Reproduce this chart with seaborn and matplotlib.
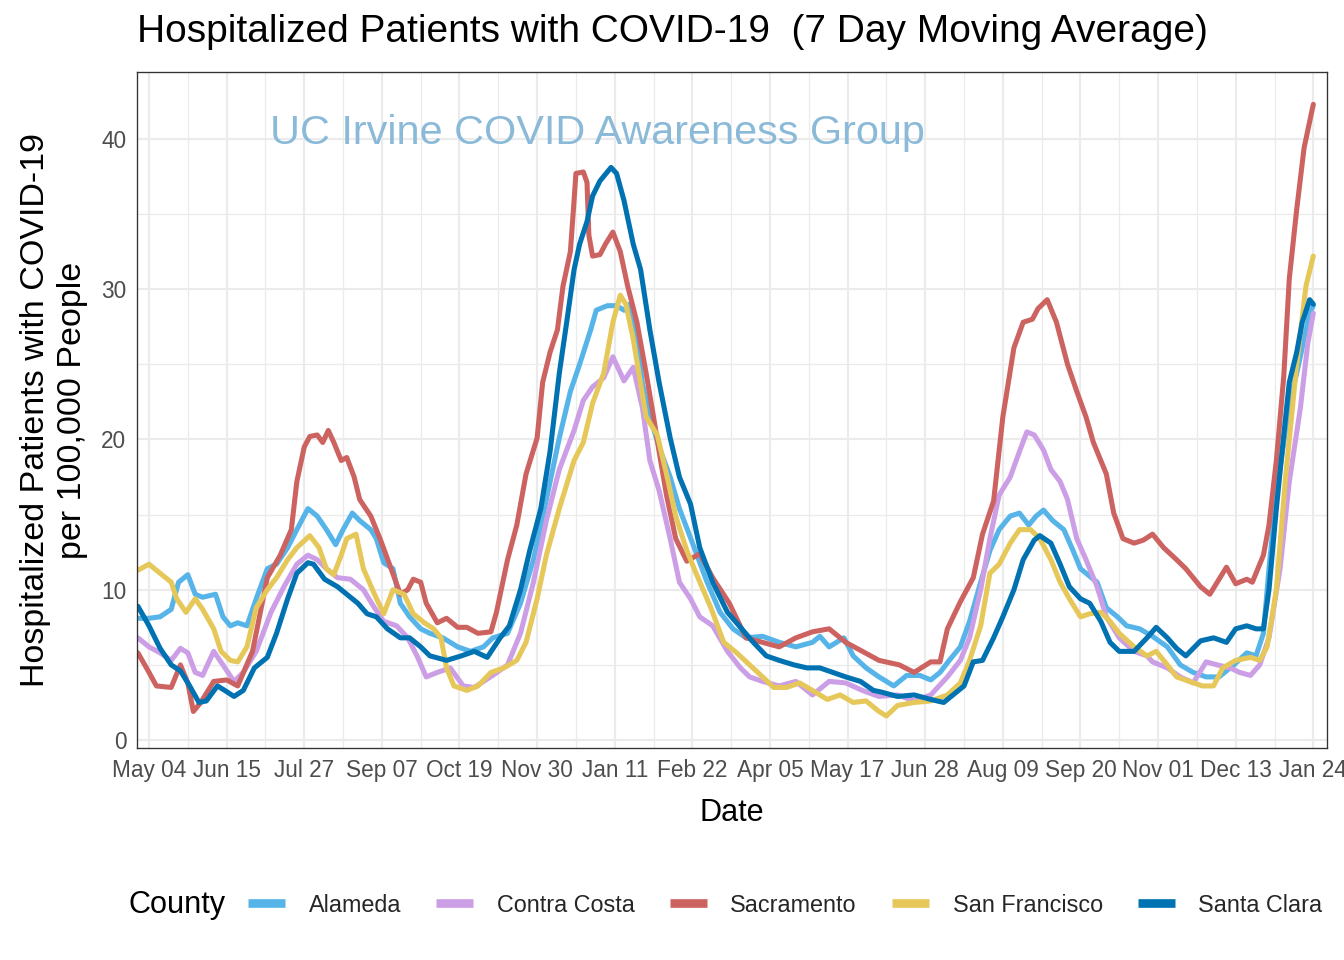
import numpy as np
import pandas as pd
import matplotlib
matplotlib.use("Agg")
import matplotlib.pyplot as plt
from matplotlib.ticker import MultipleLocator
from matplotlib.lines import Line2D
import seaborn as sns

START = pd.Timestamp("2020-05-04")
counties = ["Alameda", "Contra Costa", "Sacramento", "San Francisco", "Santa Clara"]
palette = ["#56B4E9", "#CC9EE6", "#CD6361", "#E6C85A", "#0072B2"]

# day offsets from START and values (patients per 100,000)
alameda_days = [-6, 0, 6, 12, 16, 21, 25, 29, 36, 40, 44, 48, 53, 58, 64, 69, 75, 80, 86, 91, 96, 101, 105, 110, 114,
                120, 123, 127, 132, 136, 141, 147, 152, 159, 167, 174, 181, 186, 194, 201, 208, 215, 222, 228, 233,
                239, 242, 248, 253, 257, 260, 264, 267, 271, 276, 282, 287, 295, 302, 309, 316, 323, 332, 341, 350,
                359, 363, 368, 376, 381, 388, 395, 403, 410, 417, 423, 428, 433, 439, 444, 450, 455, 460, 466, 471,
                476, 480, 484, 489, 495, 500, 504, 507, 513, 518, 524, 529, 536, 543, 551, 558, 565, 572, 579, 587,
                594, 599, 603, 606, 610, 614, 617, 621, 624, 628, 630]
alameda_vals = [8.1, 8.1, 8.2, 8.7, 10.5, 11.0, 9.7, 9.5, 9.7, 8.2, 7.6, 7.8, 7.6, 9.4, 11.4, 11.7, 12.8, 14.0, 15.4,
                14.9, 14.0, 13.0, 14.0, 15.1, 14.6, 14.0, 13.4, 11.8, 11.4, 9.1, 8.2, 7.4, 7.1, 6.8, 6.2, 5.9, 6.2,
                6.8, 7.1, 9.1, 12.0, 16.0, 20.1, 23.2, 25.0, 27.3, 28.6, 28.9, 28.9, 28.6, 29.0, 26.7, 23.7, 21.5,
                19.5, 17.5, 15.4, 12.8, 10.5, 8.5, 7.4, 6.8, 6.9, 6.5, 6.2, 6.5, 6.9, 6.2, 6.8, 5.6, 4.8, 4.2, 3.6,
                4.3, 4.3, 4.0, 4.5, 5.3, 6.2, 7.9, 10.5, 12.6, 14.0, 14.9, 15.1, 14.3, 14.9, 15.3, 14.6, 14.0, 12.6,
                11.4, 11.1, 10.5, 8.8, 8.2, 7.6, 7.4, 6.9, 6.2, 5.0, 4.5, 4.2, 4.2, 5.0, 5.8, 5.6, 7.1, 11.4, 16.3,
                19.8, 22.4, 24.4, 26.1, 28.4, 28.9]

contra_days = [-6, 0, 6, 12, 17, 21, 25, 29, 35, 40, 46, 51, 58, 66, 73, 80, 86, 91, 96, 102, 109, 116, 122, 127, 134,
               140, 145, 150, 156, 163, 170, 176, 181, 186, 194, 201, 208, 215, 222, 230, 235, 240, 246, 251, 257,
               262, 267, 271, 276, 282, 287, 293, 298, 305, 313, 320, 325, 332, 341, 350, 359, 368, 377, 386, 395,
               405, 414, 423, 432, 439, 444, 450, 455, 460, 466, 471, 475, 479, 484, 488, 493, 497, 502, 507, 513,
               518, 525, 533, 540, 543, 551, 558, 565, 572, 578, 585, 590, 596, 601, 606, 612, 617, 623, 627, 630]
contra_vals = [6.8, 6.2, 5.8, 5.3, 6.1, 5.8, 4.5, 4.3, 5.9, 5.0, 3.9, 4.5, 5.9, 8.5, 10.2, 11.7, 12.3, 12.0, 11.4,
               10.8, 10.7, 10.0, 8.8, 7.9, 7.6, 6.8, 5.6, 4.2, 4.5, 4.8, 3.6, 3.5, 3.9, 4.3, 5.0, 7.1, 10.5, 14.6,
               18.0, 20.6, 22.6, 23.5, 24.1, 25.5, 23.9, 24.8, 22.1, 18.6, 16.6, 13.4, 10.5, 9.4, 8.2, 7.6, 5.9, 4.8,
               4.2, 3.9, 3.6, 3.9, 3.0, 3.9, 3.8, 3.3, 2.9, 3.0, 2.6, 3.0, 4.2, 5.3, 6.8, 10.0, 13.4, 16.3, 17.5,
               19.2, 20.5, 20.3, 19.3, 18.0, 17.2, 16.0, 13.4, 12.0, 10.2, 8.2, 6.8, 5.9, 5.6, 5.2, 4.8, 4.2, 3.8,
               5.2, 5.0, 4.8, 4.5, 4.3, 5.0, 6.8, 11.4, 17.2, 22.1, 26.4, 28.4]

sacramento_days = [-6, 0, 4, 12, 17, 21, 24, 28, 35, 42, 48, 56, 64, 71, 77, 80, 84, 87, 91, 94, 97, 100, 104, 107,
                   111, 114, 120, 125, 131, 136, 140, 143, 147, 150, 156, 161, 167, 172, 178, 185, 188, 194, 199, 204,
                   210, 213, 217, 221, 224, 228, 230, 231, 235, 237, 238, 240, 244, 247, 251, 255, 259, 264, 269, 273,
                   276, 280, 285, 291, 298, 305, 314, 323, 332, 341, 350, 359, 368, 377, 386, 395, 406, 414, 423, 428,
                   432, 439, 446, 451, 457, 462, 468, 473, 478, 481, 486, 491, 497, 502, 507, 511, 518, 522, 527, 533,
                   538, 543, 549, 556, 561, 569, 574, 578, 583, 588, 594, 597, 603, 606, 610, 614, 617, 621, 625, 630]
sacramento_vals = [5.8, 4.5, 3.6, 3.5, 5.0, 3.8, 1.9, 2.5, 3.9, 4.0, 3.6, 5.9, 10.8, 12.3, 14.0, 17.2, 19.5, 20.2,
                   20.3, 19.8, 20.6, 19.8, 18.6, 18.8, 17.5, 16.0, 14.9, 13.4, 11.4, 9.7, 10.0, 10.7, 10.5, 9.1, 7.8,
                   8.1, 7.5, 7.5, 7.1, 7.2, 8.5, 12.0, 14.3, 17.7, 20.1, 23.8, 25.8, 27.3, 30.2, 32.5, 35.9, 37.7, 37.8,
                   37.1, 33.6, 32.2, 32.3, 33.0, 33.8, 32.5, 30.2, 27.8, 24.4, 21.5, 19.2, 16.3, 13.4, 11.9, 12.4,
                   10.8, 9.1, 6.8, 6.5, 6.2, 6.8, 7.2, 7.4, 6.5, 5.9, 5.3, 5.0, 4.5, 5.2, 5.2, 7.4, 9.2, 10.8, 13.7,
                   15.9, 21.5, 26.1, 27.8, 28.0, 28.7, 29.3, 27.8, 25.0, 23.2, 21.5, 19.8, 17.7, 15.1, 13.4, 13.1,
                   13.3, 13.7, 12.8, 12.0, 11.4, 10.2, 9.7, 10.5, 11.5, 10.4, 10.7, 10.5, 12.3, 14.3, 18.6, 24.2,
                   30.7, 35.3, 39.4, 42.3]

sanfran_days = [-6, 0, 6, 12, 15, 20, 25, 29, 35, 39, 44, 48, 53, 58, 64, 69, 75, 80, 87, 92, 96, 100, 104, 107, 112,
                116, 122, 127, 132, 138, 143, 149, 154, 158, 161, 165, 172, 178, 185, 192, 199, 204, 210, 215, 222,
                230, 235, 240, 246, 251, 255, 258, 262, 266, 269, 275, 280, 285, 291, 296, 304, 311, 318, 325, 332,
                338, 345, 352, 359, 367, 374, 381, 388, 395, 399, 405, 414, 423, 432, 439, 444, 450, 455, 460, 466,
                471, 477, 482, 488, 493, 498, 504, 509, 515, 520, 525, 533, 540, 545, 551, 556, 563, 570, 576, 581,
                588, 596, 601, 605, 610, 615, 621, 626, 630]
sanfran_vals = [11.3, 11.7, 11.1, 10.5, 9.4, 8.5, 9.4, 8.7, 7.4, 5.9, 5.3, 5.2, 6.2, 8.8, 10.0, 10.8, 12.0, 12.8,
                13.6, 12.8, 11.4, 11.0, 12.3, 13.4, 13.7, 11.4, 9.7, 8.4, 10.0, 9.7, 8.4, 7.8, 7.4, 6.8, 4.8, 3.6,
                3.3, 3.6, 4.5, 4.8, 5.3, 6.5, 9.4, 12.3, 15.4, 18.6, 19.8, 22.4, 24.4, 27.8, 29.6, 29.0, 26.7, 23.7,
                21.5, 20.3, 17.7, 14.9, 12.6, 11.1, 8.8, 6.5, 5.8, 5.0, 4.2, 3.5, 3.5, 3.8, 3.3, 2.7, 3.0, 2.5, 2.6,
                1.9, 1.6, 2.3, 2.5, 2.6, 3.0, 3.8, 5.3, 7.6, 11.1, 11.7, 13.1, 14.0, 14.0, 13.4, 12.0, 10.5, 9.4,
                8.2, 8.4, 8.5, 7.9, 7.1, 6.2, 5.6, 5.9, 5.0, 4.2, 3.9, 3.6, 3.6, 4.8, 5.3, 5.5, 5.3, 6.2, 10.0,
                17.5, 25.0, 30.2, 32.2]

santaclara_days = [-6, 0, 6, 12, 17, 22, 27, 31, 37, 41, 46, 51, 57, 64, 69, 75, 80, 86, 89, 95, 102, 107, 113, 118,
                   123, 129, 136, 141, 147, 152, 161, 169, 176, 183, 190, 195, 201, 206, 212, 217, 222, 226, 230, 233,
                   237, 240, 244, 250, 253, 257, 262, 266, 271, 276, 282, 287, 293, 298, 305, 313, 320, 327, 334, 341,
                   349, 356, 363, 370, 377, 385, 392, 396, 405, 414, 423, 430, 435, 441, 446, 451, 457, 462, 468, 473,
                   479, 482, 488, 493, 498, 504, 509, 515, 520, 525, 533, 540, 545, 551, 556, 561, 569, 576, 583, 588,
                   594, 599, 603, 606, 610, 614, 617, 621, 624, 628, 630]
santaclara_vals = [8.9, 7.6, 6.1, 5.0, 4.6, 3.6, 2.5, 2.6, 3.6, 3.3, 2.9, 3.3, 4.8, 5.5, 7.1, 9.4, 11.1, 11.8, 11.7,
                   10.7, 10.2, 9.7, 9.1, 8.4, 8.2, 7.4, 6.8, 6.8, 6.2, 5.6, 5.3, 5.6, 5.9, 5.5, 6.8, 7.6, 10.0, 12.6,
                   15.4, 19.2, 24.4, 27.8, 31.3, 33.0, 34.5, 36.2, 37.2, 38.1, 37.7, 35.9, 33.0, 31.3, 27.3, 23.8,
                   20.1, 17.5, 15.7, 12.8, 10.5, 8.5, 7.5, 6.5, 5.6, 5.3, 5.0, 4.8, 4.8, 4.5, 4.2, 3.9, 3.3, 3.2,
                   2.9, 3.0, 2.7, 2.5, 3.0, 3.6, 5.2, 5.3, 6.8, 8.2, 10.0, 12.0, 13.3, 13.6, 13.1, 11.7, 10.2, 9.4,
                   9.1, 7.9, 6.5, 5.9, 5.9, 6.8, 7.5, 6.8, 6.1, 5.6, 6.6, 6.8, 6.5, 7.4, 7.6, 7.4, 7.4, 10.0, 15.4,
                   20.3, 23.8, 25.8, 27.8, 29.3, 29.0]

x_tick_labels = ["May 04", "Jun 15", "Jul 27", "Sep 07", "Oct 19", "Nov 30", "Jan 11", "Feb 22", "Apr 05",
                 "May 17", "Jun 28", "Aug 09", "Sep 20", "Nov 01", "Dec 13", "Jan 24"]
y_ticks = [0, 10, 20, 30, 40]

series = {
    "Alameda": (alameda_days, alameda_vals),
    "Contra Costa": (contra_days, contra_vals),
    "Sacramento": (sacramento_days, sacramento_vals),
    "San Francisco": (sanfran_days, sanfran_vals),
    "Santa Clara": (santaclara_days, santaclara_vals),
}
frames = []
for name, (d, v) in series.items():
    frames.append(pd.DataFrame({"Date": START + pd.to_timedelta(d, unit="D"),
                                "Value": v, "County": name}))
df = pd.concat(frames, ignore_index=True)

sns.set_theme(style="white")
FONT = ["Liberation Sans", "DejaVu Sans"]
plt.rcParams["font.family"] = FONT

fig = plt.figure(figsize=(14, 10), dpi=96)
ax = fig.add_axes([137 / 1344, 1 - 748 / 960, (1327 - 137) / 1344, (748 - 72) / 960])

sns.lineplot(data=df, x="Date", y="Value", hue="County", hue_order=counties, palette=palette,
             estimator=None, linewidth=3.8, ax=ax, legend=False)

tick_dates = [START + pd.Timedelta(days=42 * i) for i in range(len(x_tick_labels))]
minor_dates = [START + pd.Timedelta(days=42 * i - 21) for i in range(len(x_tick_labels) + 1)]
ax.set_xticks(tick_dates)
ax.set_xticklabels(x_tick_labels)
ax.set_xticks(minor_dates, minor=True)
ax.set_xlim(START - pd.Timedelta(days=6.5), START + pd.Timedelta(days=637.4))
ax.set_yticks(y_ticks)
ax.yaxis.set_minor_locator(MultipleLocator(5))
ax.set_ylim(-0.53, 44.45)

ax.grid(which="major", color="#EBEBEB", linewidth=1.6)
ax.grid(which="minor", color="#EBEBEB", linewidth=0.9)
ax.set_axisbelow(True)
for s in ax.spines.values():
    s.set_color("#333333")
    s.set_linewidth(1.0)
ax.tick_params(axis="both", which="major", length=5, width=1.2, color="#333333",
               labelsize=17, labelcolor="#4D4D4D", pad=3)
ax.tick_params(axis="both", which="minor", length=0)

ax.set_xlabel("Date", fontsize=23, color="black", labelpad=12)
ax.set_ylabel("Hospitalized Patients with COVID-19\nper 100,000 People", fontsize=25.5,
              color="black", labelpad=10, linespacing=1.25)

ax.text(0.112, 0.91, "UC Irvine COVID Awareness Group", transform=ax.transAxes,
        fontsize=31, color="#8BBAD8", ha="left", va="center")

fig.text(137 / 1344, 1 - 32 / 960, "Hospitalized Patients with COVID-19  (7 Day Moving Average)",
         fontsize=29.2, ha="left", va="center", color="black")

# legend
fig.text(128 / 1344, 1 - 905 / 960, "County", fontsize=23, ha="left", va="center", color="black")
handles = [Line2D([0], [0], color=c, linewidth=6.5, solid_capstyle="butt") for c in palette]
fig.legend(handles, counties, loc="center left", bbox_to_anchor=(248 / 1344, 1 - 905 / 960),
           ncol=5, frameon=False, fontsize=17.5, handlelength=1.6, handletextpad=1.0,
           columnspacing=1.5, borderaxespad=0, borderpad=0)

fig.savefig("out.png", dpi=96)
